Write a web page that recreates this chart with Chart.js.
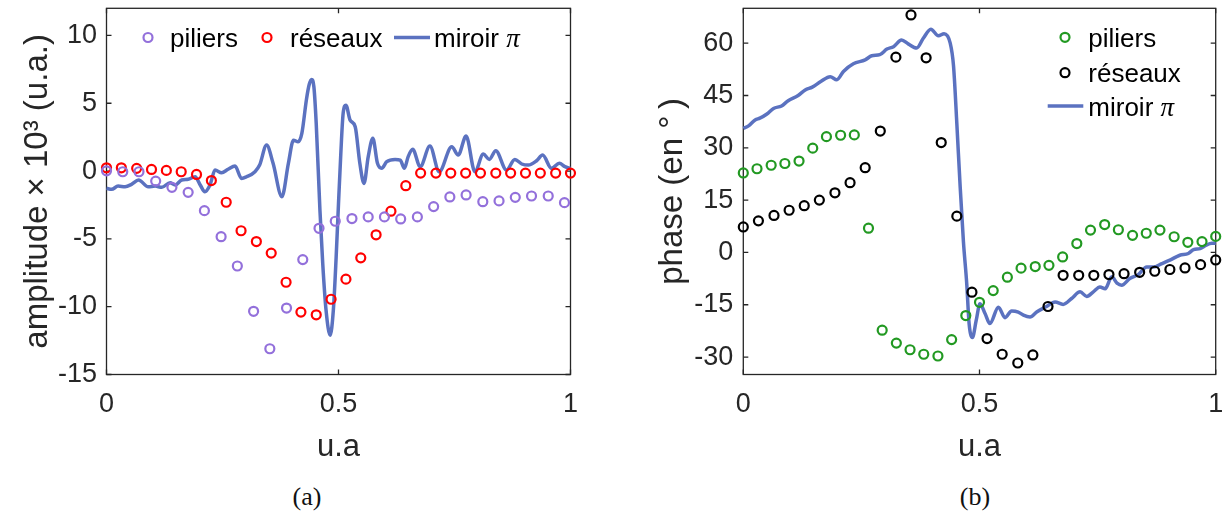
<!DOCTYPE html>
<html>
<head>
<meta charset="utf-8">
<script src="https://cdn.jsdelivr.net/npm/chart.js@4.4.1/dist/chart.umd.min.js"></script>
<style>
  body{margin:0;background:#fff;width:1225px;height:518px;position:relative;overflow:hidden;}
  canvas{position:absolute;top:0;}
  #ampChart{left:0;}
  #phaseChart{left:620px;}
  .cap{position:absolute;top:482px;width:100px;text-align:center;line-height:30px;
       font-family:"Liberation Serif","Times New Roman",serif;font-size:26px;color:#111;}
</style>
</head>
<body>
<canvas id="ampChart" width="600" height="470"></canvas>
<canvas id="phaseChart" width="605" height="470"></canvas>
<div class="cap" style="left:257px">(a)</div>
<div class="cap" style="left:925px">(b)</div>

<script>
// ---------------- DATA ----------------
const xTicks = [0, 0.5, 1];
const ampTicks = [-15, -10, -5, 0, 5, 10];
const phaseTicks = [-30, -15, 0, 15, 30, 45, 60];

// réseaux : 32 points (both panels)
const resX = [0,0.032,0.065,0.097,0.129,0.161,0.194,0.226,0.258,0.290,0.323,0.355,0.387,0.419,0.452,0.484,
              0.516,0.548,0.581,0.613,0.645,0.677,0.710,0.742,0.774,0.806,0.839,0.871,0.903,0.935,0.968,1];

// (a) amplitude
const ampPiliersX = [0,0.035,0.070,0.106,0.141,0.176,0.211,0.247,0.282,0.317,0.352,0.388,0.423,0.458,0.493,
                     0.529,0.564,0.599,0.634,0.670,0.705,0.740,0.775,0.811,0.846,0.881,0.916,0.952,0.987];
const ampPiliers = [0.02,-0.05,-0.05,-0.74,-1.2,-1.57,-2.92,-4.84,-7.0,-10.34,-13.1,-10.1,-6.53,-4.22,-3.7,
                    -3.5,-3.38,-3.38,-3.53,-3.38,-2.62,-1.91,-1.76,-2.26,-2.2,-1.94,-1.84,-1.84,-2.33];
const ampReseaux = [0.24,0.24,0.2,0.12,0.05,-0.05,-0.25,-0.7,-2.3,-4.4,-5.2,-6.05,-8.2,-10.4,-10.6,-9.45,
                    -7.97,-6.4,-4.7,-2.96,-1.08,-0.15,-0.15,-0.15,-0.15,-0.15,-0.15,-0.15,-0.15,-0.15,-0.15,-0.15];
const ampMiroirX = [0,0.011,0.025,0.040,0.054,0.069,0.090,0.105,0.119,0.137,0.148,0.162,0.176,0.191,0.202,0.212,
                    0.223,0.234,0.248,0.262,0.277,0.291,0.302,0.320,0.330,0.345,0.359,0.378,0.392,0.403,0.413,0.421,
                    0.431,0.437,0.442,0.447,0.452,0.460,0.466,0.473,0.482,0.489,0.495,0.500,0.505,0.510,0.516,
                    0.525,0.536,0.546,0.555,0.564,0.574,0.584,0.593,0.604,0.622,0.633,0.642,0.650,0.660,0.676,
                    0.697,0.717,0.744,0.758,0.775,0.794,0.812,0.825,0.839,0.862,0.880,0.895,0.909,0.927,0.940,
                    0.959,0.976,0.988,1];
const ampMiroir = [-1.27,-1.35,-1.11,-1.16,-0.98,-0.66,-1.16,-1.11,-1.2,-0.86,-1.03,-0.66,-0.61,-0.42,-1.03,-1.53,
                   -1.03,0.07,-0.12,0.13,0.37,-0.54,-0.42,-0.05,0.44,1.92,0.57,-1.89,0.57,2.28,2.16,2.78,
                   5.3,6.4,6.75,6.2,3.5,-2.9,-6.8,-10.2,-12.1,-10.2,-6.3,-2.4,1.3,4.25,4.86,
                   3.76,3.26,0.57,-0.91,1.05,2.41,0.57,0.2,0.69,0.86,0.81,0.2,1.05,1.6,0.32,
                   1.84,-0.05,1.79,1.18,2.58,-0.05,1.25,0.86,1.5,0.07,0.86,0.52,0.44,0.76,1.18,
                   0.2,0.57,0.32,0.2];

// (b) phase
const phPiliersX = [0,0.029,0.059,0.088,0.118,0.147,0.176,0.206,0.235,0.265,0.294,0.324,0.353,0.382,0.412,0.441,
                    0.471,0.5,0.529,0.559,0.588,0.618,0.647,0.676,0.706,0.735,0.765,0.794,0.824,0.853,0.882,
                    0.912,0.941,0.971,1];
const phPiliers = [22.8,24.0,25.0,25.5,26.2,29.9,33.2,33.6,33.7,6.95,-22.3,-26.0,-27.9,-29.2,-29.7,-25.0,
                   -18.1,-14.3,-10.95,-7.1,-4.5,-4.05,-3.7,-1.3,2.55,6.4,8.0,6.5,4.9,5.5,6.4,4.5,2.9,3.1,4.6];
const phReseaux = [7.3,9.05,10.6,12.1,13.4,15.0,17.1,20.0,24.3,34.8,56.0,68.1,55.8,31.5,10.4,-11.4,
                   -24.7,-29.2,-31.7,-29.4,-15.5,-6.55,-6.55,-6.55,-6.35,-6.1,-5.7,-5.4,-4.9,-4.45,-3.5,-2.15];
const phMiroirX = [0,0.011,0.025,0.035,0.050,0.064,0.081,0.095,0.116,0.131,0.146,0.164,0.184,0.198,0.212,0.233,
                   0.258,0.272,0.289,0.304,0.318,0.335,0.349,0.367,0.381,0.397,0.413,0.425,0.438,0.445,0.452,
                   0.459,0.466,0.473,0.478,0.485,0.493,0.501,0.512,0.522,0.540,0.554,0.568,0.582,0.593,0.607,
                   0.621,0.642,0.660,0.677,0.695,0.713,0.727,0.741,0.755,0.766,0.780,0.791,0.801,0.818,0.836,
                   0.854,0.868,0.886,0.903,0.924,0.942,0.953,0.967,0.980,0.992,1];
const phMiroir = [35.6,36.3,38.0,38.5,39.7,41.3,42.0,43.5,45.0,46.6,47.4,49.0,50.4,49.5,51.9,54.1,
                  55.2,56.4,56.7,58.3,59.0,60.9,59.8,58.6,61.4,64.0,62.1,62.7,60.0,53.5,37.0,
                  19.0,3.0,-9.0,-20.4,-24.4,-19.5,-14.7,-17.6,-20.4,-15.7,-18.7,-16.8,-17.1,-18.0,-18.5,
                  -17.1,-15.5,-14.2,-14.9,-13.2,-11.3,-12.6,-11.3,-9.9,-10.4,-7.0,-8.8,-9.4,-7.5,-6.35,
                  -4.2,-4.2,-3.2,-2.2,-0.8,-0.3,0.8,1.1,2.1,2.6,2.6];

const PURPLE = "#9370db", RED = "#ff0000", GREEN = "#229922", BLACK = "#000000", BLUE = "#5b72c0";
const INK = "#262626";

Chart.defaults.font.family = "'Liberation Sans', Arial, sans-serif";
Chart.defaults.color = INK;

function pts(xs, ys){
  return xs.map((x,i) => ({x:x, y:ys[i]}));
}

// ---------------- PLUGINS ----------------
// matlab style box with inward ticks
const framePlugin = {
  id:"frame",
  beforeDatasetsDraw(chart){
    const {ctx, chartArea:a, scales} = chart;
    ctx.save();
    ctx.strokeStyle = INK;
    ctx.lineWidth = 1.3;
    ctx.strokeRect(a.left, a.top, a.right - a.left, a.bottom - a.top);
    const len = 5;
    ctx.beginPath();
    scales.x.ticks.forEach(t => {
      const px = scales.x.getPixelForValue(t.value);
      ctx.moveTo(px, a.bottom); ctx.lineTo(px, a.bottom - len);
      ctx.moveTo(px, a.top); ctx.lineTo(px, a.top + len);
    });
    scales.y.ticks.forEach(t => {
      const py = scales.y.getPixelForValue(t.value);
      ctx.moveTo(a.left, py); ctx.lineTo(a.left + len, py);
      ctx.moveTo(a.right, py); ctx.lineTo(a.right - len, py);
    });
    ctx.stroke();
    ctx.restore();
  }
};

// legend drawn inside the axes
const boxLegend = {
  id:"boxLegend",
  afterDatasetsDraw(chart, args, opts){
    const ctx = chart.ctx;
    ctx.save();
    ctx.textBaseline = "alphabetic";
    opts.items.forEach(it => {
      if(it.type === "point"){
        ctx.strokeStyle = it.color;
        ctx.lineWidth = 2.2;
        ctx.beginPath();
        ctx.arc(it.mx, it.my, 4.5, 0, Math.PI*2);
        ctx.stroke();
      } else {
        ctx.strokeStyle = it.color;
        ctx.lineWidth = 3.5;
        ctx.beginPath();
        ctx.moveTo(it.mx, it.my); ctx.lineTo(it.mx2, it.my);
        ctx.stroke();
      }
      ctx.fillStyle = "#000";
      ctx.font = "26px 'Liberation Sans', Arial, sans-serif";
      ctx.fillText(it.text, it.tx, it.ty);
      if(it.pi){
        const w = ctx.measureText(it.text).width;
        ctx.font = "italic 27px 'Liberation Serif', 'Times New Roman', serif";
        ctx.fillText("π", it.tx + w, it.ty);
      }
    });
    ctx.restore();
  }
};

// ---------------- CHARTS ----------------
function makeChart(id, cfg){
  return new Chart(document.getElementById(id), {
    type:"scatter",
    data:{ datasets: cfg.datasets },
    plugins:[framePlugin, boxLegend],
    options:{
      responsive:false,
      animation:false,
      events:[],
      devicePixelRatio:1,
      layout:{ padding:{ left:0, top:8.3, right:cfg.padRight, bottom:0 } },
      plugins:{
        legend:{ display:false },
        tooltip:{ enabled:false },
        boxLegend:{ items: cfg.legend }
      },
      scales:{
        x:{
          type:"linear", min:0, max:1,
          afterBuildTicks: s => { s.ticks = xTicks.map(v => ({value:v})); },
          afterFit: s => { s.height = 95.5; s.paddingLeft = 0; s.paddingRight = 0; },
          grid:{ display:false, drawTicks:false },
          border:{ display:false },
          ticks:{ padding:14, maxRotation:0, autoSkip:false, font:{size:27}, color:INK,
                  callback: v => String(v) },
          title:{ display:true, text:"u.a", font:{size:31}, color:INK, padding:{top:0, bottom:4} }
        },
        y:{
          type:"linear", min:cfg.yMin, max:cfg.yMax,
          afterBuildTicks: s => { s.ticks = cfg.yTicks.map(v => ({value:v})); },
          afterFit: s => { s.width = cfg.yWidth; s.paddingTop = 0; s.paddingBottom = 0; },
          grid:{ display:false, drawTicks:false },
          border:{ display:false },
          ticks:{ padding:cfg.tickPad, font:{size:27}, color:INK, callback: v => String(v) },
          title:{ display:true, text:cfg.yTitle, font:{size:33}, color:INK, padding:{top:cfg.titlePad, bottom:0} }
        }
      }
    }
  });
}

function markers(label, xs, ys, color){
  return { label:label, data:pts(xs, ys), showLine:false, pointRadius:4.5, pointBorderWidth:2.2,
           pointBorderColor:color, pointBackgroundColor:"rgba(0,0,0,0)", clip:false };
}
function curve(label, xs, ys){
  return { label:label, data:pts(xs, ys), showLine:true, pointRadius:0, borderColor:BLUE, borderWidth:3.5,
           cubicInterpolationMode:"monotone", clip:false };
}

makeChart("ampChart", {
  yMin:-15, yMax:12, yTicks:ampTicks, yWidth:106.5, padRight:29.5, tickPad:9.5, titlePad:18.5,
  yTitle:"amplitude × 10³ (u.a.)",
  datasets:[
    markers("piliers", ampPiliersX, ampPiliers, PURPLE),
    markers("réseaux", resX, ampReseaux, RED),
    curve("miroir π", ampMiroirX, ampMiroir)
  ],
  legend:[
    {type:"point", color:PURPLE, mx:148, my:37.5, text:"piliers", tx:170, ty:46.5},
    {type:"point", color:RED, mx:267, my:37.5, text:"réseaux", tx:290, ty:46.5},
    {type:"line", color:BLUE, mx:394, mx2:430, my:37.5, text:"miroir ", tx:434, ty:46.5, pi:true}
  ]
});

makeChart("phaseChart", {
  yMin:-35, yMax:70, yTicks:phaseTicks, yWidth:123.3, padRight:9.3, tickPad:10, titlePad:33.5,
  yTitle:"phase (en °\u2009)",
  datasets:[
    markers("piliers", phPiliersX, phPiliers, GREEN),
    markers("réseaux", resX, phReseaux, BLACK),
    curve("miroir π", phMiroirX, phMiroir)
  ],
  legend:[
    {type:"point", color:GREEN, mx:445, my:37.3, text:"piliers", tx:468.3, ty:46.5},
    {type:"point", color:BLACK, mx:445, my:72.7, text:"réseaux", tx:468.3, ty:81.7},
    {type:"line", color:BLUE, mx:427.7, mx2:463.3, my:106, text:"miroir ", tx:468.3, ty:116, pi:true}
  ]
});
</script>
</body>
</html>
